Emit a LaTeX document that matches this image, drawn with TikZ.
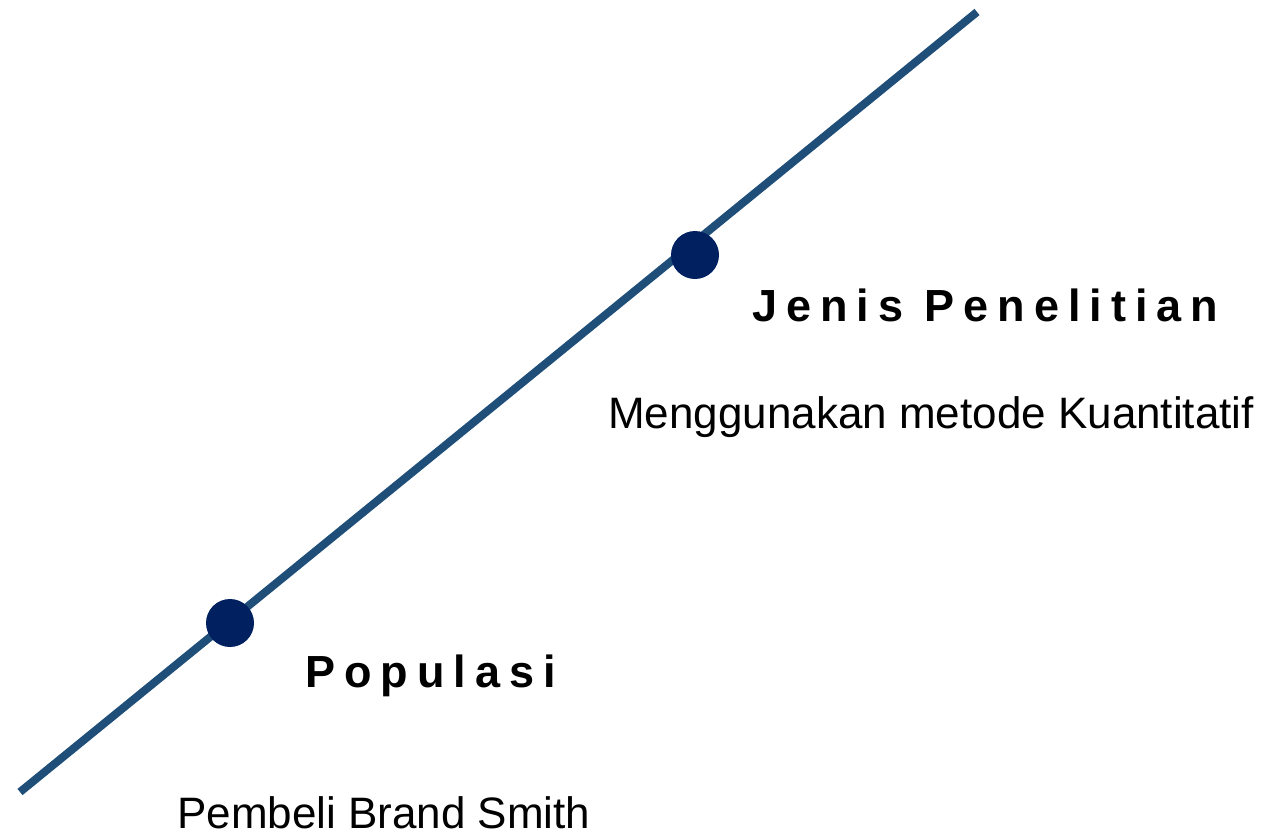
\documentclass[tikz,border=0pt]{standalone}
\usepackage{fontspec}
\setmainfont{Liberation Sans}
\usepackage{xcolor}
\usepackage{tikz}

\definecolor{lineblue}{HTML}{1F4E79}
\definecolor{dotnavy}{HTML}{002060}

\begin{document}
\begin{tikzpicture}[x=1pt, y=-1pt,
    dot/.style={circle, fill=dotnavy, minimum size=48pt, inner sep=0pt},
    heading/.style={anchor=base west, inner sep=0pt, font=\fontsize{45}{54}\selectfont\bfseries\addfontfeature{LetterSpace=20}},
    detail/.style={anchor=base west, inner sep=0pt, font=\fontsize{44}{53}\selectfont}]
    \useasboundingbox (0,0) rectangle (1263,835);

    \coordinate (start) at (20,792);
    \coordinate (end) at (977,12);
    \draw[lineblue, line width=8pt] (start) -- (end);

    \node (populasi) [dot] at (230,623) {};
    \node (jenis) [dot] at (695,255) {};

    \node (jenistitle) [heading] at (752,321) {Jenis Penelitian};
    \node (jenistext) [detail] at (608,428) {Menggunakan metode Kuantitatif};
    \node (poptitle) [heading] at (305,687) {Populasi};
    \node (poptext) [detail] at (177,828) {Pembeli Brand Smith};
\end{tikzpicture}
\end{document}
